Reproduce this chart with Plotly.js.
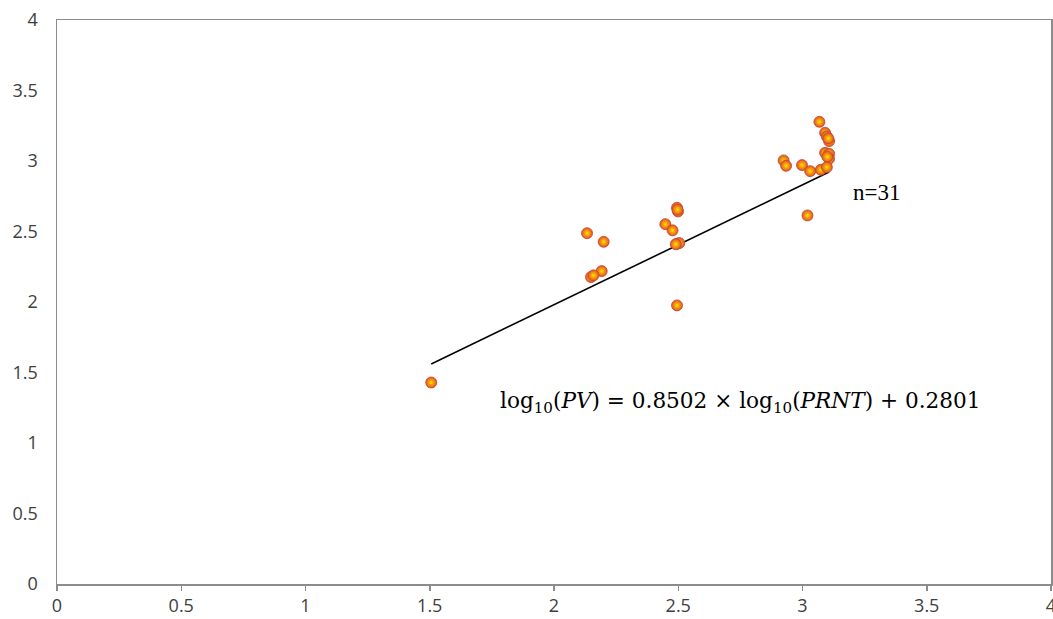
<!DOCTYPE html>
<html>
<head>
<meta charset="utf-8">
<script src="https://cdn.plot.ly/plotly-3.0.1.min.js"></script>
<style>html,body{margin:0;padding:0;background:#fff;}#chart{width:1053px;height:619px;}</style>
</head>
<body>
<div id="chart"></div>
<script>
// log10(PRNT)
const logPRNT = [1.506, 2.133, 2.200, 2.192, 2.149, 2.159, 2.448, 2.477, 2.495, 2.499, 2.495, 2.504, 2.495, 2.490, 2.497,
                 3.068, 3.091, 3.098, 3.107, 3.104, 3.091, 3.107, 3.107, 3.100, 2.924, 2.934, 2.998, 3.031, 3.074, 3.098, 3.020];
// log10(PV)
const logPV   = [1.429, 2.488, 2.427, 2.219, 2.177, 2.189, 2.552, 2.508, 2.668, 2.642, 2.413, 2.418, 1.976, 2.410, 2.655,
                 3.278, 3.200, 3.174, 3.141, 3.160, 3.058, 3.051, 3.016, 3.030, 3.004, 2.966, 2.971, 2.928, 2.938, 2.956, 2.614];
const slope = 0.8502;
const intercept = 0.2801;
const fitX = [Math.min(...logPRNT), Math.max(...logPRNT)];
const fitY = fitX.map(v => slope * v + intercept);
const nLabel = 'n=31';
const eqLabel = 'log<sub>10</sub>(<i>PV</i>) = 0.8502 × log<sub>10</sub>(<i>PRNT</i>) + 0.2801';
const xTicks = [0, 0.5, 1, 1.5, 2, 2.5, 3, 3.5, 4];
const yTicks = [0, 0.5, 1, 1.5, 2, 2.5, 3, 3.5, 4];

const traces = [
  {x: fitX, y: fitY, mode: 'lines', type: 'scatter', line: {color: '#000000', width: 1.6}, hoverinfo: 'skip'},
  {x: logPRNT, y: logPV, mode: 'markers', type: 'scatter',
   marker: {size: 11, color: '#E4501E', gradient: {type: 'radial', color: '#FFE000'},
            line: {color: 'rgba(190,70,60,0.8)', width: 1}}}
];
function makeAxis(extra) {
  return Object.assign({
    range: [0, 4], showgrid: false, zeroline: false, showline: true, linecolor: '#8C8C8C', linewidth: 1.5,
    mirror: true, ticklabeloverflow: 'allow',
    tickfont: {family: 'Open Sans, DejaVu Sans, sans-serif', size: 18, color: '#404040'}
  }, extra);
}
const layout = {
  width: 1053, height: 619,
  margin: {l: 56.5, r: 2, t: 19.5, b: 35.3},
  paper_bgcolor: '#ffffff', plot_bgcolor: '#ffffff',
  showlegend: false,
  font: {family: 'Open Sans, DejaVu Sans, sans-serif', size: 18, color: '#404040'},
  xaxis: makeAxis({tickvals: xTicks, ticktext: xTicks.map(String), ticks: 'outside', ticklen: 5, tickcolor: '#8C8C8C', tickwidth: 1.5}),
  yaxis: makeAxis({tickvals: yTicks, ticktext: yTicks.map(String), ticks: '', ticklabelstandoff: 14}),
  annotations: [
    {x: 3.196, y: 2.78, xref: 'x', yref: 'y', text: nLabel, showarrow: false, xanchor: 'left', yanchor: 'middle',
     font: {family: 'Liberation Serif, Times New Roman, serif', size: 23, color: '#000'}},
    {x: 1.775, y: 1.285, xref: 'x', yref: 'y', text: eqLabel, showarrow: false, xanchor: 'left', yanchor: 'middle',
     font: {family: 'DejaVu Serif, Liberation Serif, serif', size: 21.6, color: '#000'}}
  ]
};
Plotly.newPlot('chart', traces, layout, {displayModeBar: false, staticPlot: true});
</script>
</body>
</html>
